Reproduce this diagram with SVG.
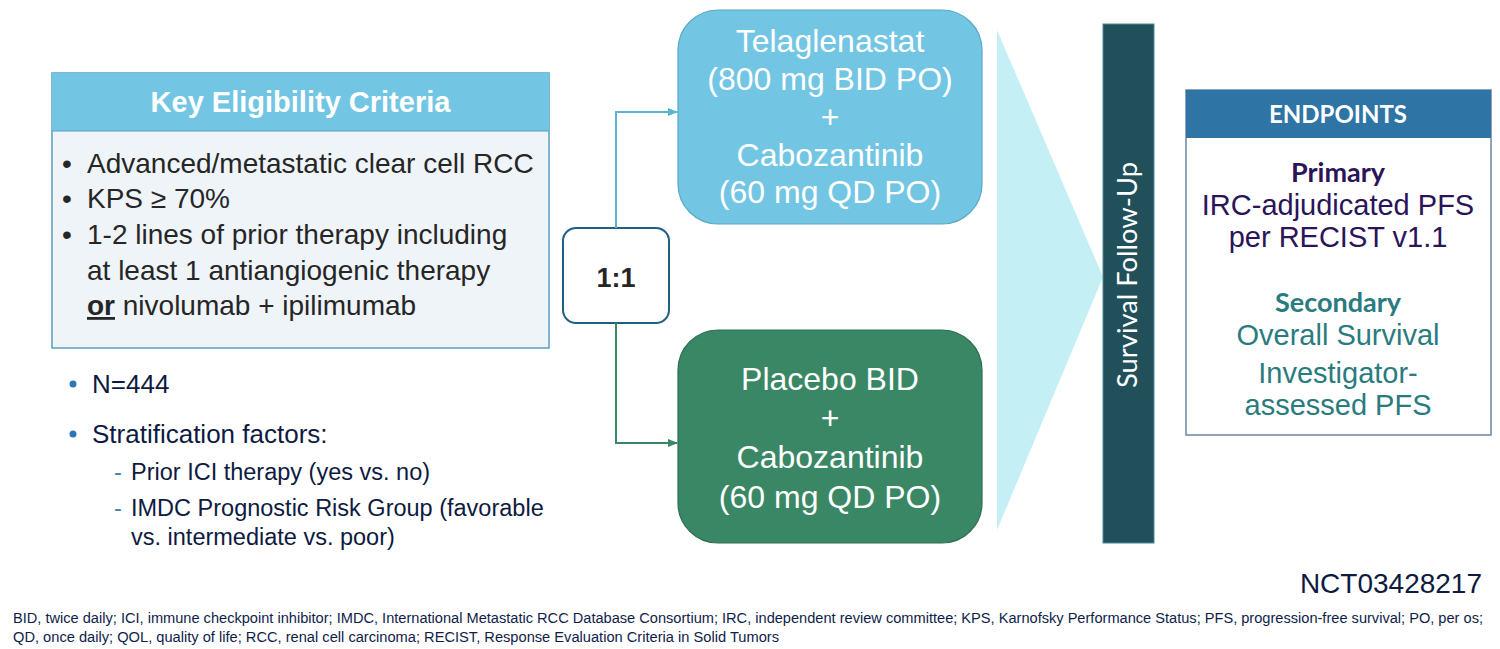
<svg xmlns="http://www.w3.org/2000/svg" width="1500" height="649" viewBox="0 0 1500 649">
<defs>
<style>
.a{font-family:"Liberation Sans",Arial,sans-serif}
.c{font-family:Lato,"Open Sans",sans-serif}
.elig{font-size:28px;fill:#262626}
.strat{font-size:26px;fill:#0E1A3F}
.sub{font-size:23.5px;fill:#0E1A3F}
.dash{font-size:23.5px;fill:#4A7FB0}
.arm{font-size:32px;fill:#ffffff;text-anchor:middle}
.ep{font-size:29px;text-anchor:middle}
.foot{font-size:14px;fill:#0F1D4A}
</style>
<marker id="arrB" markerWidth="10" markerHeight="10" refX="9" refY="5" orient="auto" markerUnits="userSpaceOnUse"><path d="M0,1 L10,5 L0,9 Z" fill="#5AB4D4"/></marker>
<marker id="arrG" markerWidth="10" markerHeight="10" refX="9" refY="5" orient="auto" markerUnits="userSpaceOnUse"><path d="M0,1 L10,5 L0,9 Z" fill="#3A8766"/></marker>
</defs>
<rect width="1500" height="649" fill="#ffffff"/>

<g id="eligibility">
<rect x="52" y="73" width="497" height="275" fill="#EFF4F9" stroke="#5A9FBC" stroke-width="1.5"/>
<rect x="52" y="73" width="497" height="58" fill="#73C6E3"/>
<line x1="52" y1="131" x2="549" y2="131" stroke="#5A9FBC" stroke-width="1"/>
<text class="a" x="300.5" y="112" font-size="29" font-weight="bold" fill="#ffffff" text-anchor="middle">Key Eligibility Criteria</text>
<text class="a elig" x="62" y="173">•</text><text class="a elig" x="87" y="173">Advanced/metastatic clear cell RCC</text>
<text class="a elig" x="62" y="208">•</text><text class="a elig" x="87" y="208">KPS ≥ 70%</text>
<text class="a elig" x="62" y="244">•</text><text class="a elig" x="87" y="244">1-2 lines of prior therapy including</text>
<text class="a elig" x="87" y="280">at least 1 antiangiogenic therapy</text>
<text class="a elig" x="87" y="315"><tspan font-weight="bold" text-decoration="underline">or</tspan> nivolumab + ipilimumab</text>
</g>

<g id="stratification">
<circle cx="73" cy="384" r="3.5" fill="#2E75B6"/>
<text class="a strat" x="92" y="393">N=444</text>
<circle cx="73" cy="434" r="3.5" fill="#2E75B6"/>
<text class="a strat" x="92" y="443">Stratification factors:</text>
<text class="a dash" x="114" y="480">-</text>
<text class="a sub" x="131" y="480">Prior ICI therapy (yes vs. no)</text>
<text class="a dash" x="114" y="516">-</text>
<text class="a sub" x="131" y="516">IMDC Prognostic Risk Group (favorable</text>
<text class="a sub" x="131" y="545">vs. intermediate vs. poor)</text>
</g>

<g id="randomization">
<rect x="563" y="228" width="106" height="95" rx="13" fill="#ffffff" stroke="#1F5F80" stroke-width="2"/>
<text class="a" x="616" y="287" font-size="27" font-weight="bold" fill="#262626" text-anchor="middle">1:1</text>
</g>

<g id="connectors" fill="none" stroke-width="2">
<polyline points="616,228 616,112 677,112" stroke="#5AB4D4" marker-end="url(#arrB)"/>
<polyline points="616,323 616,443 677,443" stroke="#3A8766" marker-end="url(#arrG)"/>
</g>

<g id="arm-telaglenastat">
<rect x="678" y="10" width="304" height="214" rx="40" fill="#73C6E3" stroke="#5AA8C4" stroke-width="1.2"/>
<text class="a arm" x="830" y="52">Telaglenastat</text>
<text class="a arm" x="830" y="90">(800 mg BID PO)</text>
<text class="a arm" x="830" y="128">+</text>
<text class="a arm" x="830" y="166">Cabozantinib</text>
<text class="a arm" x="830" y="203">(60 mg QD PO)</text>
</g>

<g id="arm-placebo">
<rect x="678" y="330" width="304" height="213" rx="40" fill="#3A8766" stroke="#2E6E52" stroke-width="1.2"/>
<text class="a arm" x="830" y="390">Placebo BID</text>
<text class="a arm" x="830" y="429">+</text>
<text class="a arm" x="830" y="468">Cabozantinib</text>
<text class="a arm" x="830" y="508">(60 mg QD PO)</text>
</g>

<g id="chevron">
<polygon points="997,30 1103,277 997,530" fill="#C4F0F5"/>
</g>

<g id="survival-follow-up">
<rect x="1103" y="24" width="51" height="519" fill="#22505A" stroke="#4A8A94" stroke-width="1"/>
<text class="c" transform="translate(1137,275) rotate(-90)" x="0" y="0" font-size="27" fill="#ffffff" text-anchor="middle" textLength="226" lengthAdjust="spacingAndGlyphs">Survival Follow-Up</text>
</g>

<g id="endpoints">
<rect x="1186" y="90" width="305" height="345" fill="#ffffff" stroke="#6A86A6" stroke-width="1.5"/>
<rect x="1186" y="90" width="305" height="48" fill="#2E75A5"/>
<text class="c" x="1338" y="123" font-size="24" font-weight="bold" fill="#ffffff" text-anchor="middle">ENDPOINTS</text>
<text class="c" x="1338" y="182" font-size="27" font-weight="bold" fill="#2B1458" text-anchor="middle">Primary</text>
<text class="a ep" x="1338" y="215" fill="#2B1458">IRC-adjudicated PFS</text>
<text class="a ep" x="1338" y="247" fill="#2B1458">per RECIST v1.1</text>
<text class="c" x="1338" y="312" font-size="27" font-weight="bold" fill="#2A7B80" text-anchor="middle">Secondary</text>
<text class="a ep" x="1338" y="345" fill="#2A7B80">Overall Survival</text>
<text class="a ep" x="1338" y="383" fill="#2A7B80">Investigator-</text>
<text class="a ep" x="1338" y="415" fill="#2A7B80">assessed PFS</text>
</g>

<g id="footer">
<text class="a" x="1482" y="593" font-size="28" fill="#0E1A3F" text-anchor="end">NCT03428217</text>
<text class="a foot" x="13" y="623" textLength="1470" lengthAdjust="spacingAndGlyphs">BID, twice daily; ICI, immune checkpoint inhibitor; IMDC, International Metastatic RCC Database Consortium;  IRC, independent review committee; KPS, Karnofsky Performance Status; PFS, progression-free survival; PO, per os;</text>
<text class="a foot" x="13" y="642" textLength="766" lengthAdjust="spacingAndGlyphs">QD, once daily; QOL, quality of life; RCC, renal cell carcinoma; RECIST, Response Evaluation Criteria in Solid Tumors</text>
</g>
</svg>
